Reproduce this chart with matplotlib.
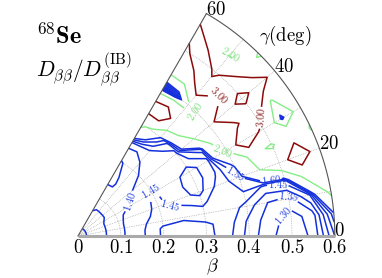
import numpy as np
import matplotlib
matplotlib.use('Agg')
import matplotlib.pyplot as plt

plt.rcParams['mathtext.fontset'] = 'cm'
plt.rcParams['font.family'] = 'serif'
plt.rcParams['font.serif'] = ['DejaVu Serif']

# grid of the (beta, gamma) plane
beta = [0.0, 0.05, 0.10, 0.15, 0.20, 0.25, 0.30, 0.35, 0.40, 0.45, 0.50, 0.55, 0.60]
gamma = [0, 5, 10, 15, 20, 25, 30, 35, 40, 45, 50, 55, 60]
ratio = [
    [1.28, 1.33, 1.39, 1.44, 1.51, 1.53, 1.52, 1.47, 1.38, 1.31, 1.27, 1.31, 1.50],
    [1.28, 1.33, 1.39, 1.44, 1.51, 1.52, 1.51, 1.48, 1.39, 1.32, 1.28, 1.32, 1.58],
    [1.28, 1.33, 1.39, 1.44, 1.48, 1.49, 1.47, 1.49, 1.43, 1.35, 1.33, 1.45, 2.10],
    [1.28, 1.33, 1.39, 1.44, 1.46, 1.46, 1.44, 1.48, 1.50, 1.44, 1.48, 2.15, 2.25],
    [1.28, 1.33, 1.39, 1.43, 1.46, 1.43, 1.38, 1.47, 1.53, 1.98, 2.40, 3.80, 2.30],
    [1.28, 1.33, 1.39, 1.42, 1.46, 1.42, 1.37, 1.44, 1.62, 2.15, 1.92, 2.60, 1.95],
    [1.28, 1.33, 1.38, 1.41, 1.455, 1.42, 1.38, 1.43, 2.05, 3.90, 2.70, 1.52, 2.30],
    [1.28, 1.33, 1.37, 1.40, 1.44, 1.43, 1.42, 1.52, 2.40, 2.80, 3.90, 1.95, 2.60],
    [1.28, 1.33, 1.37, 1.39, 1.42, 1.43, 1.44, 1.95, 2.70, 3.70, 2.50, 3.70, 2.40],
    [1.28, 1.33, 1.37, 1.38, 1.40, 1.42, 1.47, 2.30, 2.10, 2.60, 3.90, 2.20, 1.95],
    [1.28, 1.33, 1.37, 1.37, 1.39, 1.41, 1.60, 2.50, 1.85, 3.80, 2.70, 1.95, 2.40],
    [1.28, 1.33, 1.37, 1.345, 1.36, 1.41, 1.80, 3.90, 1.40, 2.30, 3.90, 2.40, 2.70],
    [1.28, 1.33, 1.385, 1.34, 1.345, 1.42, 2.10, 3.60, 1.30, 2.30, 2.60, 3.60, 2.20],
]
blue_levels = [1.30, 1.35, 1.40, 1.45, 1.50, 1.55, 1.60]
green_levels = [2.00]
red_levels = [3.00]

beta_ticks = [0, 0.1, 0.2, 0.3, 0.4, 0.5, 0.6]
gamma_ticks = [0, 20, 40, 60]

scale = 428.0  # px per unit beta
B, G = np.meshgrid(beta, np.radians(gamma))
X = B * np.cos(G)
Y = B * np.sin(G)
Z = np.array(ratio)

def pol(b, g):
    return b * np.cos(np.radians(g)), b * np.sin(np.radians(g))

def px(x, y):
    # pixel position (from top-left) to data coords
    return (x - 78) / scale, (236 - y) / scale

fig = plt.figure(figsize=(3.82, 2.78), dpi=100)
ax = fig.add_axes([0, 0, 1, 1])
ax.set_xlim(-78 / scale, 304 / scale)
ax.set_ylim(-42 / scale, 236 / scale)
ax.axis('off')

# dotted grid
t = np.linspace(0, np.pi / 3, 120)
for b in [0.1, 0.2, 0.3, 0.4, 0.5]:
    ax.plot(b * np.cos(t), b * np.sin(t), ls=(0, (1, 1.5)), color='#9a9a9a', lw=0.5, zorder=1)
for g in [10, 20, 30, 40, 50]:
    x1, y1 = pol(0.6, g)
    ax.plot([0, x1], [0, y1], ls=(0, (1, 1.5)), color='#9a9a9a', lw=0.5, zorder=1)

# contours
cb = ax.contour(X, Y, Z, levels=blue_levels, colors='#1430dc', linewidths=1.1, zorder=3)
cg = ax.contour(X, Y, Z, levels=green_levels, colors='#86ee86', linewidths=1.0, zorder=3)
cr = ax.contour(X, Y, Z, levels=red_levels, colors='#8b0a0a', linewidths=1.1, zorder=3)

fmt = lambda v: r'$%.2f$' % v
blue_pos = [pol(0.147, 33), pol(0.206, 35), pol(0.222, 14.6), pol(0.39, 21),
            pol(0.47, 17), pol(0.482, 14.3), pol(0.50, 11), pol(0.475, 6.8)]
green_pos = [pol(0.394, 30.7), pol(0.44, 41), pol(0.577, 51.7)]
red_pos = [pol(0.482, 44.6), pol(0.507, 33)]
ax.clabel(cb, fmt=fmt, fontsize=7.5, manual=blue_pos, inline=True, inline_spacing=1, colors='#2040e0')
ax.clabel(cg, fmt=fmt, fontsize=7.5, manual=green_pos, inline=True, inline_spacing=1, colors='#7ee07e')
ax.clabel(cr, fmt=fmt, fontsize=7.5, manual=red_pos, inline=True, inline_spacing=1, colors='#8b1a1a')

# frame of the sector
ax.plot(0.6 * np.cos(t), 0.6 * np.sin(t), color='#555555', lw=0.8, zorder=4)
x60, y60 = pol(0.6, 60)
ax.plot([0, x60], [0, y60], color='#555555', lw=0.8, zorder=4)
ax.plot([0, 0.6], [0, 0], color='#aaaaaa', lw=2.2, zorder=4, solid_capstyle='butt')

# tick labels
for b in beta_ticks:
    lab = '0' if b == 0 else '%.1f' % b
    ax.text(b, -12 / scale, r'$%s$' % lab, ha='center', va='center', fontsize=13.5)
ax.text(*px(212, 267), r'$\beta$', ha='center', va='center', fontsize=13)
gamma_pos = {0: (339, 231), 20: (329, 144), 40: (284, 67), 60: (216, 10)}
for g in gamma_ticks:
    ax.text(*px(*gamma_pos[g]), r'$%d$' % g, ha='center', va='center', fontsize=13.5)
ax.text(*px(285, 36), r'$\gamma(\mathrm{deg})$', ha='center', va='center', fontsize=13.5)

ax.text(*px(36, 36), r'$^{68}\mathbf{Se}$', ha='left', va='center', fontsize=17.5)
ax.text(*px(36, 70), r'$D_{\beta\beta}/D^{(\mathrm{IB})}_{\beta\beta}$',
        ha='left', va='center', fontsize=15.5)

fig.savefig('out.png', dpi=100)
